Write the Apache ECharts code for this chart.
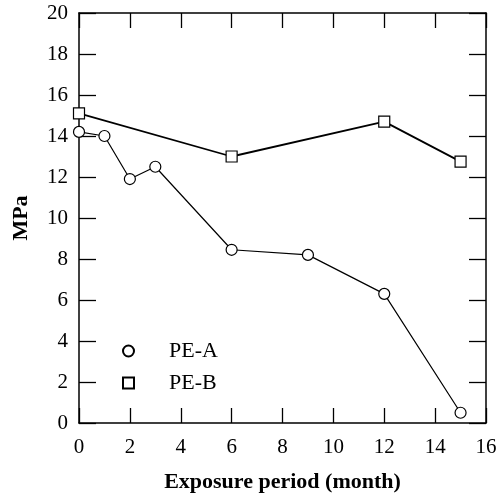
<!DOCTYPE html>
<html><head><meta charset="utf-8">
<script src="https://cdn.jsdelivr.net/npm/echarts@6/dist/echarts.min.js"></script>
<style>html,body{margin:0;padding:0;background:#fff}#c{width:503px;height:500px}</style>
</head><body><div id="c"></div>
<script>
const monthsA = [0, 1, 2, 3, 6, 9, 12, 15];
const valuesA = [14.2, 14.0, 11.9, 12.5, 8.45, 8.2, 6.3, 0.5];
const monthsB = [0, 6, 12, 15];
const valuesB = [15.1, 13.0, 14.7, 12.75];
const seriesNames = ['PE-A', 'PE-B'];
const xTitle = 'Exposure period (month)';
const yTitle = 'MPa';

const font = 'Liberation Serif';
const chart = echarts.init(document.getElementById('c'));
const axisLineStyle = {color: '#000', width: 1.5};
const tickStyle = {color: '#000', width: 1.3};
const pair = (xs, ys) => xs.map((x, i) => [x, ys[i]]);
chart.setOption({
  animation: false,
  backgroundColor: '#fff',
  grid: {left: 79, right: 17, top: 13, bottom: 77},
  legend: {
    orient: 'vertical', left: 117, top: 335, itemGap: 10,
    itemWidth: 11, itemHeight: 11,
    textStyle: {fontFamily: font, fontSize: 22, color: '#000', padding: [4, 0, 0, 30]},
    data: [{name: seriesNames[0], icon: 'circle'}, {name: seriesNames[1], icon: 'rect'}]
  },
  xAxis: [{
    type: 'value', min: 0, max: 16, interval: 2,
    name: xTitle, nameLocation: 'middle', nameGap: 48,
    nameTextStyle: {fontFamily: font, fontSize: 22, fontWeight: 'bold', color: '#000'},
    axisLine: {onZero: false, lineStyle: axisLineStyle},
    axisTick: {inside: true, length: 15, lineStyle: tickStyle},
    axisLabel: {fontFamily: font, fontSize: 21, color: '#000', margin: 14},
    splitLine: {show: false}
  }, {
    type: 'value', min: 0, max: 16, interval: 2, position: 'top',
    axisLine: {onZero: false, lineStyle: axisLineStyle},
    axisTick: {inside: true, length: 15, lineStyle: tickStyle},
    axisLabel: {show: false}, splitLine: {show: false}
  }],
  yAxis: [{
    type: 'value', min: 0, max: 20, interval: 2,
    name: yTitle, nameLocation: 'middle', nameGap: 47, nameRotate: 90,
    nameTextStyle: {fontFamily: font, fontSize: 22, fontWeight: 'bold', color: '#000'},
    axisLine: {onZero: false, lineStyle: axisLineStyle},
    axisTick: {inside: true, length: 17, lineStyle: tickStyle},
    axisLabel: {fontFamily: font, fontSize: 21, color: '#000', margin: 11},
    splitLine: {show: false}
  }, {
    type: 'value', min: 0, max: 20, interval: 2, position: 'right',
    axisLine: {onZero: false, lineStyle: axisLineStyle},
    axisTick: {inside: true, length: 17, lineStyle: tickStyle},
    axisLabel: {show: false}, splitLine: {show: false}
  }],
  series: [{
    name: seriesNames[0], type: 'line', data: pair(monthsA, valuesA),
    symbol: 'circle', symbolSize: 11,
    lineStyle: {color: '#000', width: 1.2},
    itemStyle: {color: '#fff', borderColor: '#000', borderWidth: 1.2}
  }, {
    name: seriesNames[1], type: 'line', data: pair(monthsB, valuesB),
    symbol: 'rect', symbolSize: 11,
    lineStyle: {color: '#000', width: 1.8},
    itemStyle: {color: '#fff', borderColor: '#000', borderWidth: 1.2}
  }]
});
</script></body></html>
